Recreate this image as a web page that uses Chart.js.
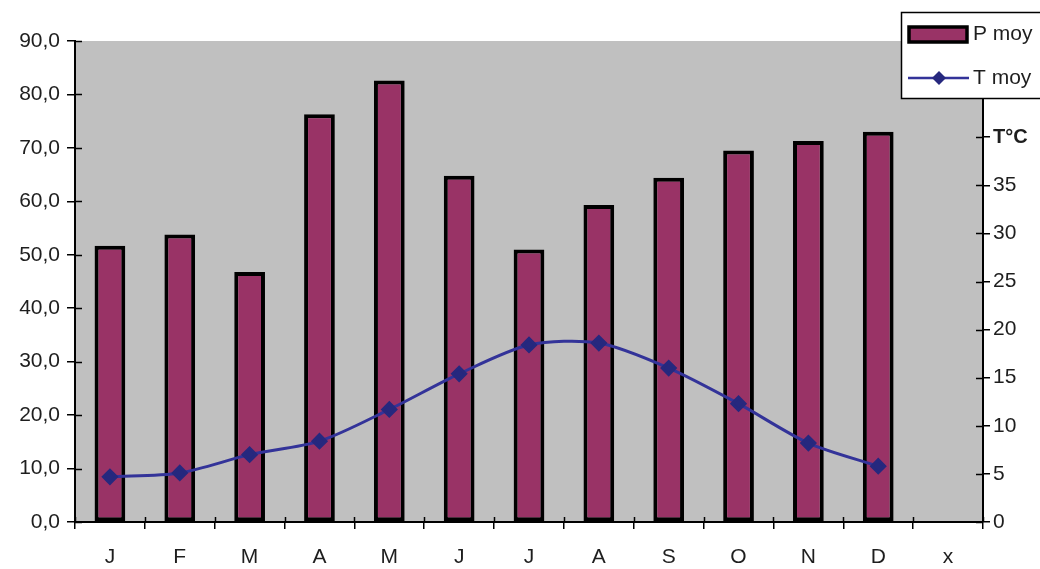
<!DOCTYPE html>
<html>
<head>
<meta charset="utf-8">
<script src="https://cdn.jsdelivr.net/npm/chart.js@4"></script>
<style>
  html, body { margin: 0; padding: 0; background: #ffffff; }
  #wrap { position: relative; width: 1040px; height: 569px; }
</style>
</head>
<body>
<div id="wrap"><canvas id="c" width="1040" height="569"></canvas></div>
<script>
const categories = ['J', 'F', 'M', 'A', 'M', 'J', 'J', 'A', 'S', 'O', 'N', 'D', 'x'];
const precipitation = [51.7, 53.8, 46.8, 76.3, 82.6, 64.8, 51.0, 59.3, 64.4, 69.5, 71.3, 73.0, null];
const temperature = [4.7, 5.1, 7.0, 8.4, 11.7, 15.4, 18.4, 18.6, 16.0, 12.3, 8.2, 5.8, null];
const seriesNames = ['P moy', 'T moy'];
const rightAxisTitle = 'T°C';

const FONT = '"Liberation Sans", Arial, sans-serif';
const TEXT = '#1e1e1e';
const BAR_FILL = '#993366';
const LINE_COL = '#333399';
const MARK_COL = '#26287e';

const plotBg = {
  id: 'plotBg',
  beforeDraw(chart) {
    const { ctx, chartArea: a } = chart;
    ctx.save();
    ctx.fillStyle = '#c0c0c0';
    ctx.fillRect(a.left, a.top, a.right - a.left, a.bottom - a.top);
    ctx.restore();
  }
};

// inner halves of the tick marks (ticks cross the axis lines)
const innerTicks = {
  id: 'innerTicks',
  afterDatasetsDraw(chart) {
    const { ctx, chartArea: a, scales } = chart;
    ctx.save();
    ctx.strokeStyle = '#000';
    ctx.lineWidth = 1.5;
    ctx.beginPath();
    scales.y.ticks.forEach((t, i) => {
      const p = Math.round(scales.y.getPixelForTick(i)) + 0.5;
      ctx.moveTo(a.left, p); ctx.lineTo(a.left + 7, p);
    });
    scales.y2.ticks.forEach((t, i) => {
      if (t.value > 40) return;
      const p = Math.round(scales.y2.getPixelForTick(i)) + 0.5;
      ctx.moveTo(a.right, p); ctx.lineTo(a.right - 7, p);
    });
    const xs = scales.x;
    for (let i = 0; i <= categories.length; i++) {
      const p = Math.round(xs.getPixelForValue(i - 0.5)) + 0.5;
      ctx.moveTo(p, a.bottom); ctx.lineTo(p, a.bottom - 5);
    }
    ctx.stroke();
    ctx.restore();
  }
};

const boxLegend = {
  id: 'boxLegend',
  afterDraw(chart) {
    const ctx = chart.ctx;
    const x = 901, y = 12, w = 150, h = 86;
    ctx.save();
    ctx.fillStyle = '#ffffff';
    ctx.fillRect(x, y, w, h);
    ctx.strokeStyle = '#000';
    ctx.lineWidth = 1.5;
    ctx.strokeRect(x + 0.5, y + 0.5, w, h);
    // P moy swatch
    ctx.fillStyle = BAR_FILL;
    ctx.fillRect(909, 27, 58, 15);
    ctx.lineWidth = 3.5;
    ctx.strokeRect(909, 27, 58, 15);
    // T moy line + diamond
    ctx.strokeStyle = LINE_COL;
    ctx.lineWidth = 2.5;
    ctx.beginPath();
    ctx.moveTo(908, 78); ctx.lineTo(969, 78);
    ctx.stroke();
    ctx.fillStyle = MARK_COL;
    ctx.beginPath();
    ctx.moveTo(939, 71); ctx.lineTo(946, 78); ctx.lineTo(939, 85); ctx.lineTo(932, 78);
    ctx.closePath(); ctx.fill();
    ctx.fillStyle = TEXT;
    ctx.font = '21px ' + FONT;
    ctx.textBaseline = 'middle';
    ctx.textAlign = 'left';
    ctx.fillText(seriesNames[0], 973, 34);
    ctx.fillText(seriesNames[1], 973, 78);
    ctx.restore();
  }
};

new Chart(document.getElementById('c'), {
  data: {
    labels: categories,
    datasets: [
      {
        type: 'line',
        label: seriesNames[1],
        data: temperature,
        yAxisID: 'y2',
        borderColor: LINE_COL,
        borderWidth: 3,
        backgroundColor: MARK_COL,
        pointBackgroundColor: MARK_COL,
        pointBorderColor: MARK_COL,
        pointStyle: 'rectRot',
        pointRadius: 6.5,
        tension: 0.28,
        fill: false,
        order: 0
      },
      {
        type: 'bar',
        label: seriesNames[0],
        data: precipitation,
        yAxisID: 'y',
        backgroundColor: BAR_FILL,
        borderColor: '#000000',
        borderWidth: 4,
        borderSkipped: false,
        barPercentage: 0.44,
        categoryPercentage: 1.0,
        order: 1
      }
    ]
  },
  options: {
    responsive: false,
    animation: false,
    devicePixelRatio: 1,
    layout: { padding: { top: 41, left: 0, right: 0, bottom: 0 } },
    plugins: { legend: { display: false }, tooltip: { enabled: false } },
    scales: {
      x: {
        offset: true,
        grid: { offset: true, drawOnChartArea: false, drawTicks: true, tickLength: 7, color: '#000', lineWidth: 1.5 },
        border: { display: true, color: '#000', width: 2 },
        ticks: { color: TEXT, font: { family: FONT, size: 21 }, padding: 16, maxRotation: 0 },
        afterFit(s) { s.height = 47; }
      },
      y: {
        position: 'left',
        min: 0, max: 90,
        ticks: {
          stepSize: 10,
          color: TEXT,
          font: { family: FONT, size: 21 },
          padding: 7,
          callback: v => v.toFixed(1).replace('.', ',')
        },
        grid: { drawOnChartArea: false, tickLength: 8, color: '#000', lineWidth: 1.5 },
        border: { display: true, color: '#000', width: 2 },
        afterFit(s) { s.width = 75; }
      },
      y2: {
        position: 'right',
        min: 0, max: 50,
        ticks: {
          stepSize: 5,
          color: TEXT,
          padding: 3,
          font: ctx => (ctx.tick && ctx.tick.value === 40)
            ? { family: FONT, size: 20, weight: 'bold' }
            : { family: FONT, size: 21 },
          callback: v => v <= 35 ? String(v) : (v === 40 ? rightAxisTitle : '')
        },
        grid: {
          drawOnChartArea: false, tickLength: 7, lineWidth: 1.5,
          color: ctx => (ctx.tick && ctx.tick.value > 40) ? 'rgba(0,0,0,0)' : '#000'
        },
        border: { display: true, color: '#000', width: 2 },
        afterFit(s) { s.width = 57; }
      }
    }
  },
  plugins: [plotBg, innerTicks, boxLegend]
});
</script>
</body>
</html>
